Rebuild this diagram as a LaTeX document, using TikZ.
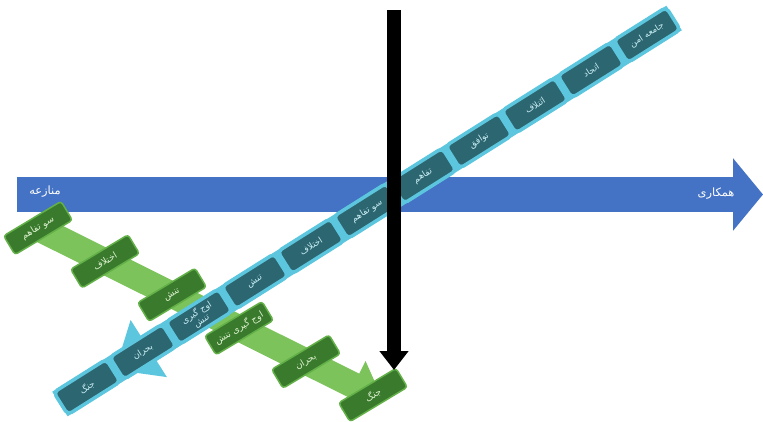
\documentclass[tikz,border=0pt]{standalone}
\usepackage{fontspec}
\usetikzlibrary{arrows.meta}
\TeXXeTstate=1
\newfontfamily\fa[Script=Arabic]{DejaVu Sans}
\newcommand\rtl[1]{\beginR#1\endR}
\definecolor{bluebar}{HTML}{4472C4}
\definecolor{greenlt}{HTML}{7CC35B}
\definecolor{greenfill}{HTML}{3A7A2D}
\definecolor{greenedge}{HTML}{62B047}
\definecolor{greentext}{HTML}{DDF2CF}
\definecolor{cyanband}{HTML}{5BC6DE}
\definecolor{tealfill}{HTML}{2C6670}
\definecolor{tealtext}{HTML}{C9EEF5}

\begin{document}
\begin{tikzpicture}[x=0.02cm,y=-0.02cm,
    tealbox/.style={rectangle, rounded corners=0.09cm, fill=tealfill, draw=cyanband,
      line width=0.07cm, minimum width=1.24cm, minimum height=0.53cm, inner sep=0pt,
      rotate=32.2, align=center, text=tealtext, font=\fa\fontsize{5}{5.3}\selectfont},
    greenbox/.style={rectangle, rounded corners=0.06cm, fill=greenfill, draw=greenedge,
      line width=0.03cm, minimum width=1.34cm, minimum height=0.44cm, inner sep=0pt,
      rotate=31, text=greentext, font=\fa\fontsize{5.2}{5.6}\selectfont},
    barlabel/.style={text=white, font=\fa\fontsize{6.5}{7}\selectfont}]
  %%%%% START %%%%%
  \useasboundingbox (0,0) rectangle (763,422);

  % horizontal arrow
  \coordinate (blueL) at (17,194.5);
  \coordinate (blueR) at (763,194.5);
  \draw[bluebar, line width=0.7cm, -{Triangle[length=0.6cm,width=1.42cm]}] (blueL) -- (blueR);
  \node[barlabel] (conflict) at (45,192) {\rtl{منازعه}};
  \node[barlabel] (coop) at (716,194) {\rtl{همکاری}};

  % positions
  \foreach \i in {0,...,5}
    \coordinate (gp\i) at ({38+67*\i},{228+33.4*\i});
  \foreach \k in {0,...,10}
    \coordinate (cp\k) at ({647-56*\k},{35+35.2*\k});
  \coordinate (gtip) at (383,400);
  \coordinate (ctip) at (115,370);

  % green band
  \draw[greenlt, line width=0.52cm, -{Triangle[length=0.66cm,width=1.04cm]}] (gp0) -- (gtip);

  % cyan band
  \draw[cyanband, line width=0.58cm, shorten <=-0.64cm, shorten >=-0.64cm] (cp0) -- (cp10);
  \draw[cyanband, line width=0.58cm, -{Triangle[length=0.8cm,width=1.3cm]}] (cp8) -- (ctip);

  % chain boxes
  \foreach \k/\lbl in {0/{\rtl{جامعه امن}}, 1/{\rtl{اتحاد}}, 2/{\rtl{ائتلاف}},
      3/{\rtl{توافق}}, 4/{\rtl{تفاهم}}, 5/{\rtl{سو تفاهم}}, 6/{\rtl{اختلاف}},
      7/{\rtl{تنش}}, 8/{\rtl{اوج گیری}\\\rtl{تنش}}, 9/{\rtl{بحران}}, 10/{\rtl{جنگ}}}
    \node[tealbox] (t\k) at (cp\k) {\lbl};

  % green boxes
  \foreach \i/\lbl in {0/سو تفاهم, 1/اختلاف, 2/تنش, 3/اوج گیری تنش, 4/بحران, 5/جنگ}
    \node[greenbox] (g\i) at (gp\i) {\rtl{\lbl}};

  % vertical arrow
  \coordinate (btop) at (394,10);
  \coordinate (bbot) at (394,370);
  \draw[black, line width=0.28cm, -{Triangle[length=0.38cm,width=0.56cm]}] (btop) -- (bbot);
  %%%%% END %%%%%
\end{tikzpicture}
\end{document}
